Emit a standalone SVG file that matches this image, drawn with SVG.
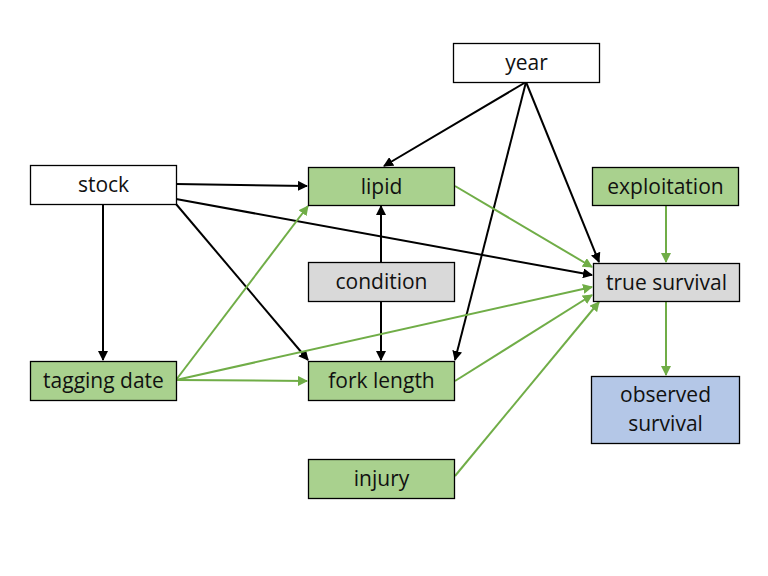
<svg xmlns="http://www.w3.org/2000/svg" width="768" height="576" viewBox="0 0 768 576">
<style>
.box{stroke:#000;stroke-width:1.3}
.w{fill:#fff}.g{fill:#A9D18E}.gr{fill:#D9D9D9}.b{fill:#B4C7E7}
text{font-family:"Open Sans","Liberation Sans",sans-serif;font-size:21px;fill:#111;text-anchor:middle;dominant-baseline:central}
.k{stroke:#000;stroke-width:2;fill:none;marker-end:url(#ak)}
.e{stroke:#70AD47;stroke-width:2;fill:none;marker-end:url(#ag)}
</style>
<defs>
<marker id="ak" viewBox="0 0 10 10" refX="9" refY="5" markerWidth="5" markerHeight="5" orient="auto" markerUnits="strokeWidth"><path d="M0,0 L10,5 L0,10 Z" fill="#000"/></marker>
<marker id="ag" viewBox="0 0 10 10" refX="9" refY="5" markerWidth="5" markerHeight="5" orient="auto" markerUnits="strokeWidth"><path d="M0,0 L10,5 L0,10 Z" fill="#70AD47"/></marker>
</defs>
<rect width="768" height="576" fill="#fff"/>
<g id="connectors">
<line class="k" x1="526" y1="82" x2="384" y2="166"/>
<line class="k" x1="526" y1="82" x2="455" y2="360"/>
<line class="k" x1="526" y1="82" x2="599" y2="262"/>
<line class="k" x1="176" y1="184" x2="307" y2="186"/>
<line class="k" x1="176" y1="199" x2="592" y2="275"/>
<line class="k" x1="176" y1="204" x2="308" y2="360"/>
<line class="k" x1="103" y1="204" x2="103" y2="360"/>
<line class="k" x1="381" y1="263" x2="381" y2="206"/>
<line class="k" x1="381" y1="301" x2="381" y2="360"/>
<line class="e" x1="176" y1="380" x2="308" y2="206"/>
<line class="e" x1="176" y1="380" x2="592" y2="287"/>
<line class="e" x1="176" y1="380" x2="307" y2="381"/>
<line class="e" x1="455" y1="186" x2="592" y2="267"/>
<line class="e" x1="455" y1="381" x2="592" y2="295"/>
<line class="e" x1="455" y1="476" x2="599" y2="302"/>
<line class="e" x1="666" y1="205" x2="666" y2="262"/>
<line class="e" x1="666" y1="301" x2="666" y2="375"/>
</g>
<g id="year"><rect class="box w" x="453.5" y="43.5" width="146" height="39"/><text x="526.5" y="62">year</text></g>
<g id="stock"><rect class="box w" x="30.5" y="165.5" width="146" height="39"/><text x="103.5" y="184">stock</text></g>
<g id="lipid"><rect class="box g" x="308.5" y="167.5" width="146" height="38"/><text x="381.5" y="185.5">lipid</text></g>
<g id="exploitation"><rect class="box g" x="592.5" y="167.5" width="146" height="38"/><text x="665.5" y="185.5">exploitation</text></g>
<g id="condition"><rect class="box gr" x="308.5" y="262.5" width="146" height="39"/><text x="381.5" y="281">condition</text></g>
<g id="true_survival"><rect class="box gr" x="593.5" y="263.5" width="146" height="38"/><text x="666.5" y="281.5">true survival</text></g>
<g id="tagging_date"><rect class="box g" x="30.5" y="361.5" width="146" height="39"/><text x="103.5" y="380">tagging date</text></g>
<g id="fork_length"><rect class="box g" x="308.5" y="361.5" width="146" height="39"/><text x="381.5" y="380">fork length</text></g>
<g id="observed_survival"><rect class="box b" x="591.5" y="376.5" width="148" height="67"/><text x="665.5" y="394">observed</text><text x="665.5" y="423">survival</text></g>
<g id="injury"><rect class="box g" x="308.5" y="459.5" width="146" height="39"/><text x="381.5" y="478">injury</text></g>
</svg>
